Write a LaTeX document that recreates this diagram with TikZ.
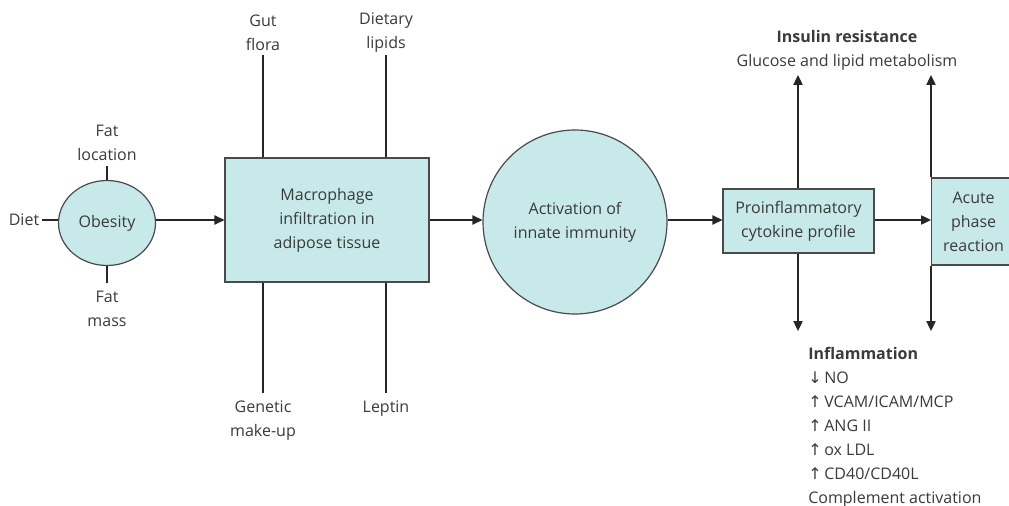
\documentclass[tikz,border=0pt]{standalone}
\usepackage{fontspec}
\setmainfont{Open Sans}
\newfontfamily\arr{DejaVu Sans}
\usetikzlibrary{arrows.meta,shapes.geometric}
\definecolor{boxfill}{HTML}{C8E9EA}
\definecolor{edge}{HTML}{4A4A4A}
\definecolor{txt}{HTML}{3A3A3A}
\begin{document}
\begin{tikzpicture}[x=0.75pt,y=-0.75pt,
  every node/.style={text=txt, font=\fontsize{12}{18}\selectfont, align=center, inner sep=0pt},
  shapebox/.style={draw=edge, fill=boxfill, line width=0.9pt},
  link/.style={draw=black!85, line width=0.9pt},
  arrowlink/.style={link, -{Triangle[length=7.5pt,width=7pt]}}]
\useasboundingbox (0,0) rectangle (1009,506);

% shapes
\node[shapebox, ellipse, minimum width=72.75pt, minimum height=63.75pt] (obesity) at (107,223) {Obesity};
\node[shapebox, rectangle, minimum width=153pt, minimum height=93pt] (macro) at (327,220) {Macrophage\\infiltration in\\adipose tissue};
\node[shapebox, circle, minimum size=138pt] (immune) at (575,222) {Activation of\\innate immunity};
\node[shapebox, rectangle, minimum width=113.25pt, minimum height=48pt] (cyto) at (798.5,221) {Proinflammatory\\cytokine profile};
\node[shapebox, rectangle, minimum width=63pt, minimum height=65.25pt, anchor=west] (acute) at (931,221.5) {Acute\\phase\\reaction};

% labels
\node (diet) at (24,220) {Diet};
\node (fatloc) at (107,142.5) {Fat\\location};
\node (fatmass) at (107,309) {Fat\\mass};
\node (gut) at (263,33) {Gut\\flora};
\node (lipids) at (386,33) {Dietary\\lipids};
\node (genetic) at (263,421) {Genetic\\make-up};
\node (leptin) at (386,409) {Leptin};
\node (insulin) at (847,50) {\textbf{Insulin resistance}\\Glucose and lipid metabolism};
\node[align=left, anchor=north west] (inflam) at (808,347) {\textbf{Inflammation}\\
{\arr ↓}\,NO\\
{\arr ↑}\,VCAM/ICAM/MCP\\
{\arr ↑}\,ANG II\\
{\arr ↑}\,ox LDL\\
{\arr ↑}\,CD40/CD40L\\
Complement activation};

% line end coordinates
\coordinate (dietend) at (42,220);
\coordinate (fatlocend) at (107,166);
\coordinate (fatmassend) at (107,283);
\coordinate (gutend) at (263,55);
\coordinate (lipidsend) at (386,55);
\coordinate (geneticend) at (263,393);
\coordinate (leptinend) at (386,393);
\coordinate (up1) at (798,75);
\coordinate (up2) at (931,75);
\coordinate (down1) at (798,331);
\coordinate (down2) at (931,331);

% plain lines
\draw[link] (dietend) -- (obesity.west |- dietend);
\draw[link] (fatlocend) -- (obesity.north);
\draw[link] (fatmassend) -- (obesity.south);
\draw[link] (gutend) -- (gutend |- macro.north);
\draw[link] (lipidsend) -- (lipidsend |- macro.north);
\draw[link] (geneticend) -- (geneticend |- macro.south);
\draw[link] (leptinend) -- (leptinend |- macro.south);

% arrows
\draw[arrowlink] (obesity.east |- macro.west) -- (macro.west);
\draw[arrowlink] (macro.east) -- (immune.west |- macro.east);
\draw[arrowlink] (immune.east |- macro.east) -- (cyto.west |- macro.east);
\draw[arrowlink] (cyto.east |- macro.east) -- (acute.west |- macro.east);
\draw[arrowlink] (cyto.north -| up1) -- (up1);
\draw[arrowlink] (acute.north west) -- (up2);
\draw[arrowlink] (cyto.south -| down1) -- (down1);
\draw[arrowlink] (acute.south west) -- (down2);
\end{tikzpicture}
\end{document}
